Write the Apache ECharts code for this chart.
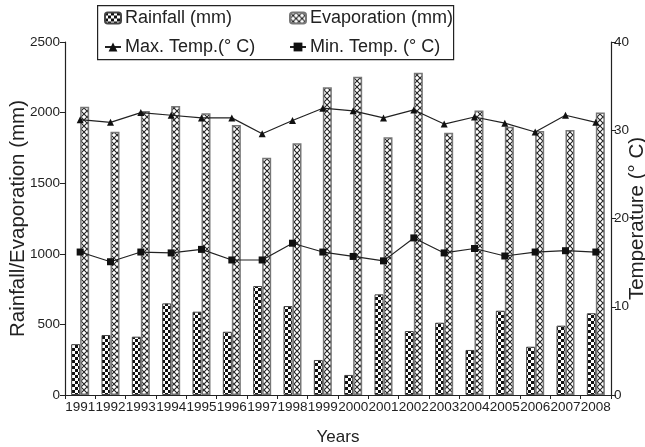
<!DOCTYPE html>
<html>
<head>
<meta charset="utf-8">
<script src="https://cdn.jsdelivr.net/npm/echarts@6/dist/echarts.min.js"></script>
<style>
html,body{margin:0;padding:0;background:#fff;}
#chart{width:645px;height:447px;}
</style>
</head>
<body>
<div id="chart"></div>
<script>
const years = ['1991','1992','1993','1994','1995','1996','1997','1998','1999','2000','2001','2002','2003','2004','2005','2006','2007','2008'];
const rainfall = [360, 425, 413, 649, 590, 448, 772, 630, 248, 142, 713, 453, 512, 319, 597, 342, 491, 579];
const evaporation = [2042, 1865, 2011, 2047, 1995, 1912, 1681, 1783, 2179, 2254, 1825, 2283, 1858, 2014, 1900, 1870, 1877, 2000];
const maxTemp = [31.2, 30.9, 32.0, 31.7, 31.4, 31.4, 29.6, 31.1, 32.5, 32.2, 31.4, 32.3, 30.7, 31.5, 30.8, 29.8, 31.7, 30.9];
const minTemp = [16.2, 15.1, 16.2, 16.1, 16.5, 15.3, 15.3, 17.2, 16.2, 15.7, 15.2, 17.8, 16.1, 16.6, 15.75, 16.2, 16.35, 16.2];
const leftTicks = [0, 500, 1000, 1500, 2000, 2500];
const rightTicks = [0, 10, 20, 30, 40];

function checker() {
  const c = document.createElement('canvas');
  c.width = 6; c.height = 6;
  const g = c.getContext('2d');
  g.fillStyle = '#fff'; g.fillRect(0,0,6,6);
  g.fillStyle = '#111';
  g.fillRect(0,0,3,3); g.fillRect(3,3,3,3);
  return c;
}
function hatch() {
  const c = document.createElement('canvas');
  c.width = 6; c.height = 6;
  const g = c.getContext('2d');
  g.fillStyle = '#fff'; g.fillRect(0,0,6,6);
  g.strokeStyle = '#222'; g.lineWidth = 1.1;
  g.beginPath();
  g.moveTo(-1,-1); g.lineTo(7,7);
  g.moveTo(7,-1); g.lineTo(-1,7);
  g.stroke();
  return c;
}

const reg = "'Liberation Sans', Arial, sans-serif";
const txt = '#222';
const plain = v => String(v);

const chart = echarts.init(document.getElementById('chart'), null, {renderer: 'canvas'});
chart.setOption({
  animation: false,
  backgroundColor: '#fff',
  grid: {left: 65, right: 34, top: 42, bottom: 52, containLabel: false, outerBoundsMode: 'none'},
  graphic: [{
    type: 'rect', left: 97, top: 5,
    shape: {width: 356, height: 54},
    style: {fill: 'rgba(0,0,0,0)', stroke: '#222', lineWidth: 1.2},
    z: 100
  }],
  legend: [{
    data: ['Rainfall (mm)', 'Max. Temp.(° C)'],
    orient: 'vertical', left: 99, top: 4,
    itemWidth: 16, itemHeight: 11, itemGap: 11,
    textStyle: {fontFamily: reg, fontSize: 18, color: txt, padding: [0,0,0,-1]}
  }, {
    data: ['Evaporation (mm)', 'Min. Temp. (° C)'],
    orient: 'vertical', left: 284, top: 4,
    itemWidth: 16, itemHeight: 11, itemGap: 11,
    textStyle: {fontFamily: reg, fontSize: 18, color: txt, padding: [0,0,0,-1]}
  }],
  xAxis: {
    type: 'category', data: years,
    name: 'Years', nameLocation: 'middle', nameGap: 34, nameMoveOverlap: false,
    nameTextStyle: {fontFamily: reg, fontSize: 17, color: txt},
    axisLine: {lineStyle: {color: '#222', width: 1.2}},
    axisTick: {show: true, length: 4, lineStyle: {color: '#222'}},
    axisLabel: {fontFamily: reg, fontSize: 13.5, color: txt, margin: 5, interval: 0}
  },
  yAxis: [{
    type: 'value', min: leftTicks[0], max: leftTicks[leftTicks.length-1], interval: 500,
    name: 'Rainfall/Evaporation (mm)', nameLocation: 'middle', nameGap: 36, nameMoveOverlap: false,
    nameTextStyle: {fontFamily: reg, fontSize: 20.5, color: txt},
    axisLine: {show: true, lineStyle: {color: '#222', width: 1.2}},
    axisTick: {show: true, length: 5, lineStyle: {color: '#222'}},
    axisLabel: {fontFamily: reg, fontSize: 13.5, color: txt, margin: 5, formatter: plain},
    splitLine: {show: false}
  }, {
    type: 'value', min: rightTicks[0], max: rightTicks[rightTicks.length-1], interval: 10,
    position: 'right',
    name: 'Temperature (° C)', nameLocation: 'middle', nameGap: 16, nameMoveOverlap: false,
    nameTextStyle: {fontFamily: reg, fontSize: 20.5, color: txt},
    axisLine: {show: true, lineStyle: {color: '#222', width: 1.2}},
    axisTick: {show: true, length: 5, lineStyle: {color: '#222'}},
    axisLabel: {fontFamily: reg, fontSize: 13.5, color: txt, margin: 3, formatter: plain},
    splitLine: {show: false}
  }],
  series: [{
    name: 'Rainfall (mm)', type: 'bar', data: rainfall,
    barWidth: 9, barGap: '0%',
    itemStyle: {color: {image: checker(), repeat: 'repeat'}, borderColor: '#444', borderWidth: 1}
  }, {
    name: 'Evaporation (mm)', type: 'bar', data: evaporation,
    barWidth: 9, barGap: '0%',
    itemStyle: {color: {image: hatch(), repeat: 'repeat'}, borderColor: '#777', borderWidth: 1.5}
  }, {
    name: 'Max. Temp.(° C)', type: 'line', yAxisIndex: 1, data: maxTemp,
    symbol: 'triangle', symbolSize: 7, z: 5,
    lineStyle: {color: '#222', width: 1.2},
    itemStyle: {color: '#111'}
  }, {
    name: 'Min. Temp. (° C)', type: 'line', yAxisIndex: 1, data: minTemp,
    symbol: 'rect', symbolSize: 7, z: 5,
    lineStyle: {color: '#222', width: 1.2},
    itemStyle: {color: '#111'}
  }]
});
</script>
</body>
</html>
